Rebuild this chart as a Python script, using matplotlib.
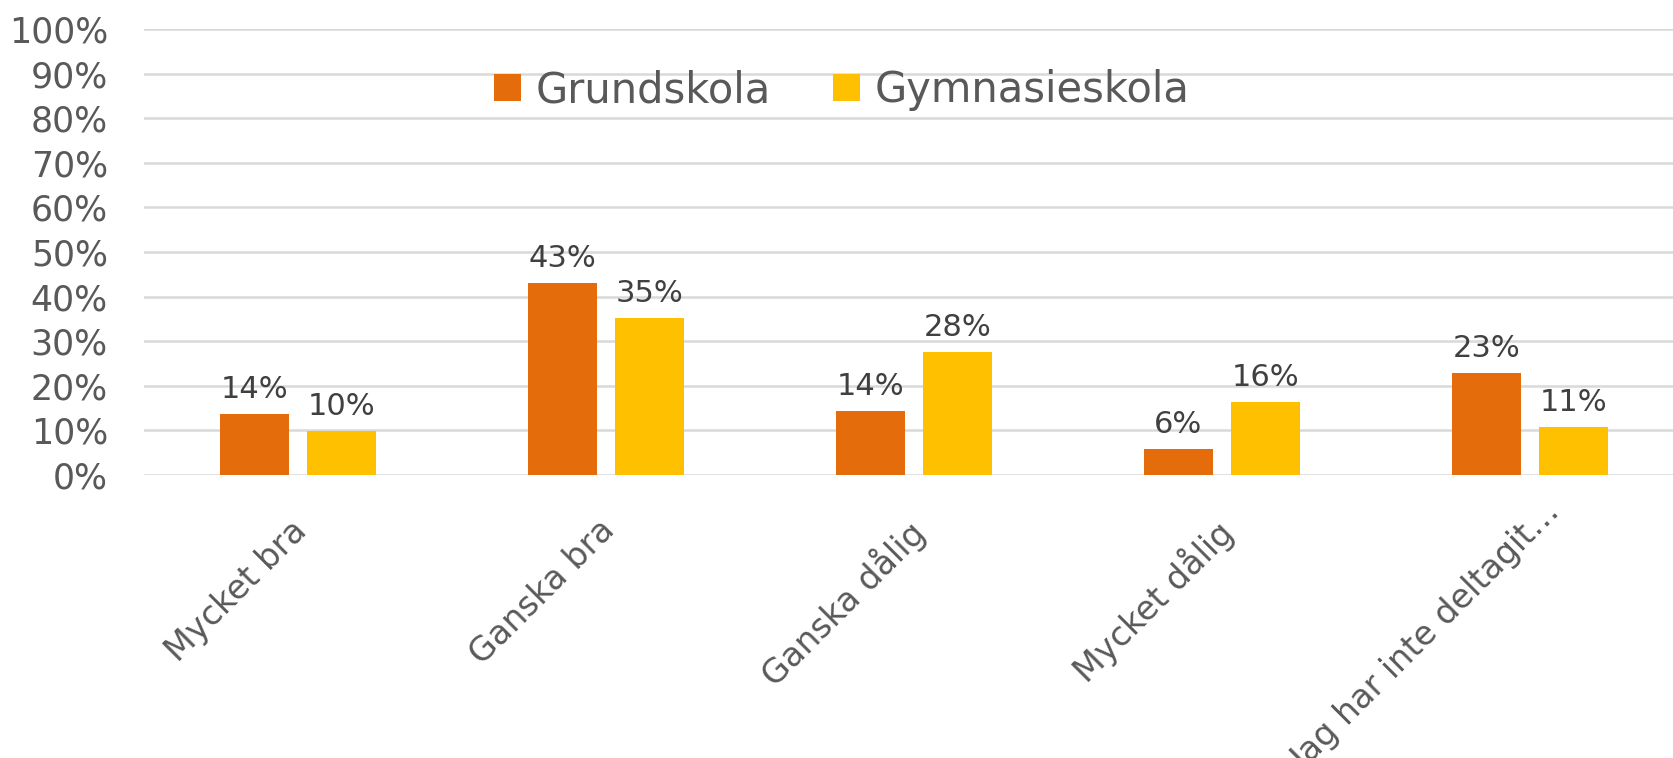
import matplotlib.pyplot as plt
import matplotlib.transforms as mtransforms
import numpy as np

categories = ["Mycket bra", "Ganska bra", "Ganska dålig", "Mycket dålig",
              "Jag har inte deltagit…"]
grundskola = [0.137, 0.431, 0.144, 0.058, 0.229]
gymnasieskola = [0.099, 0.353, 0.276, 0.164, 0.108]
series_names = ["Grundskola", "Gymnasieskola"]
y_ticks = [0.0, 0.1, 0.2, 0.3, 0.4, 0.5, 0.6, 0.7, 0.8, 0.9, 1.0]

orange = "#E46C0A"
yellow = "#FFC000"
text_grey = "#595959"
label_grey = "#404040"

fig = plt.figure(figsize=(16.73, 7.58), dpi=100)
# plot area runs a little past the right edge, as in the original
ax = fig.add_axes([0.0861, 0.3734, 0.9205, 0.5883])

x = np.arange(len(categories))
width = 0.224
off = 0.142
bars1 = ax.bar(x - off, grundskola, width, color=orange, label=series_names[0], zorder=2)
bars2 = ax.bar(x + off, gymnasieskola, width, color=yellow, label=series_names[1], zorder=2)

for bars, vals in [(bars1, grundskola), (bars2, gymnasieskola)]:
    for b, v in zip(bars, vals):
        ax.annotate(f"{v:.0%}", (b.get_x() + b.get_width() / 2, v),
                    xytext=(0, 7), textcoords="offset points",
                    ha="center", va="bottom", fontsize=22, color=label_grey)

ax.set_xlim(-0.5, len(categories) - 0.5)
ax.set_ylim(0, 1)
ax.set_yticks(y_ticks)
ax.set_yticklabels([f"{t:.0%}" for t in y_ticks], fontsize=25, color=text_grey)
ax.set_xticks(x)
ax.set_xticklabels(categories, rotation=45, ha="right", rotation_mode="anchor",
                   fontsize=24, color=text_grey)
ax.tick_params(axis="both", length=0)
ax.tick_params(axis="x", pad=28)
ax.tick_params(axis="y", pad=26)

shift = mtransforms.ScaledTranslation(-6 / 72, 0, fig.dpi_scale_trans)
xlabels = ax.get_xticklabels()
for lab in xlabels:
    lab.set_transform(lab.get_transform() + shift)
# the truncated last label sits a bit higher and further right
xlabels[-1].set_transform(xlabels[-1].get_transform()
                          + mtransforms.ScaledTranslation(16 / 72, 13 / 72, fig.dpi_scale_trans))

ax.grid(axis="y", color="#D9D9D9", linewidth=1.8, zorder=0)
ax.set_axisbelow(True)
for s in ax.spines.values():
    s.set_visible(False)

ax.legend(loc="center", bbox_to_anchor=(0.503, 0.881), bbox_transform=fig.transFigure,
          ncol=2, frameon=False, fontsize=30, labelcolor=text_grey,
          handlelength=0.65, handleheight=0.65, handletextpad=0.35, columnspacing=1.5)

fig.savefig("out.png", dpi=100)
